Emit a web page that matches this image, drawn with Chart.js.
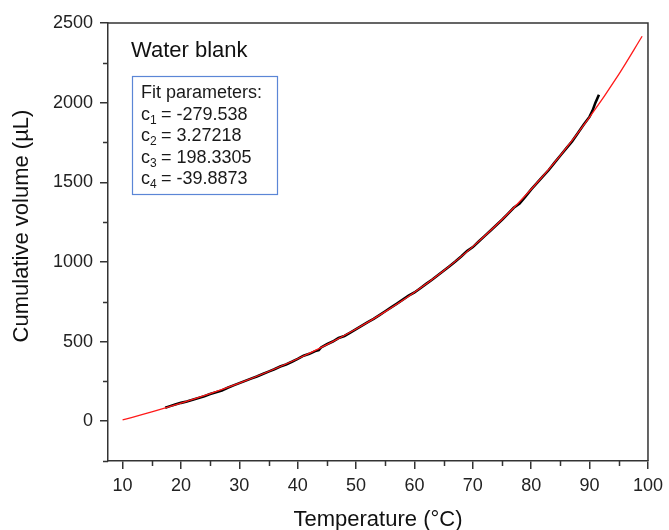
<!DOCTYPE html>
<html>
<head>
<meta charset="utf-8">
<script src="https://cdn.jsdelivr.net/npm/chart.js@4.4.1/dist/chart.umd.min.js"></script>
<style>
  html, body { margin: 0; padding: 0; background: #fff; }
  #wrap { width: 669px; height: 530px; }
</style>
</head>
<body>
<div id="wrap"><canvas id="chart" width="669" height="530"></canvas></div>
<script>
// measured run (black trace)
const runTemps = [17.3, 18, 19, 20, 21, 22, 23, 24, 25, 26, 27, 28, 29, 30, 31, 32, 33, 34, 35, 36,
  37, 38, 39, 40, 41, 42, 43, 43.6, 44, 45, 46, 47, 48, 49, 50, 51, 52, 53, 54, 55, 56, 57, 58, 59,
  60, 61, 62, 63, 64, 65, 66, 67, 68, 69, 70, 71, 72, 73, 74, 75, 76, 77, 78, 79, 80, 81, 82, 83,
  84, 85, 86, 87, 88, 89, 90, 90.5, 91, 91.6];
const runVolumes = [85, 93, 104, 115, 124, 135, 146, 157, 170, 182, 193, 210, 225, 239, 253, 267, 281, 296, 311, 326,
  343, 356, 373, 391, 411, 423, 440, 446, 463, 483, 500, 522, 535, 556, 578, 600, 622, 643, 666, 690, 714, 738, 763, 788,
  808, 835, 862, 888, 916, 944, 973, 1002, 1034, 1068, 1093, 1128, 1162, 1196, 1230, 1265, 1302, 1340, 1366, 1410, 1455, 1496, 1537, 1577,
  1623, 1668, 1713, 1757, 1810, 1862, 1912, 1950, 2000, 2050];

// fitted curve (red)
const fitTemps = [10, 15, 20, 25, 30, 35, 40, 45, 50, 55, 60, 65, 70, 75, 80, 85, 90, 95, 99];
const fitVolumes = [8, 58, 113, 173, 239, 312, 392, 481, 579, 688, 809, 945, 1096, 1266, 1456, 1669, 1909, 2178, 2417];

const xTicks = [10, 20, 30, 40, 50, 60, 70, 80, 90, 100];
const xMinor = [15, 25, 35, 45, 55, 65, 75, 85, 95];
const yTicks = [0, 500, 1000, 1500, 2000, 2500];
const yMinor = [-250, 250, 750, 1250, 1750, 2250];

const fitNames = ['1', '2', '3', '4'];
const fitValues = ['-279.538', '3.27218', '198.3305', '-39.8873'];

const FONT = '"Liberation Sans", Arial, sans-serif';
const AXIS = '#333';

const toPoints = (xs, ys) => xs.map((x, i) => ({ x, y: ys[i] }));

const decorations = {
  id: 'decorations',
  afterDraw(chart) {
    const { ctx, chartArea: a, scales: { x, y } } = chart;
    ctx.save();
    ctx.strokeStyle = AXIS;
    ctx.lineWidth = 1.5;
    ctx.beginPath();
    // minor ticks
    xMinor.forEach(v => {
      const px = Math.round(x.getPixelForValue(v)) + 0.5;
      ctx.moveTo(px, a.bottom); ctx.lineTo(px, a.bottom + 5);
    });
    yMinor.forEach(v => {
      const py = Math.round(y.getPixelForValue(v)) + 0.5;
      ctx.moveTo(a.left, py); ctx.lineTo(a.left - 5, py);
    });
    // top and right frame
    ctx.moveTo(a.left, a.top); ctx.lineTo(a.right, a.top); ctx.lineTo(a.right, a.bottom);
    ctx.stroke();

    ctx.fillStyle = '#111';
    // axis titles
    ctx.font = '22px ' + FONT;
    ctx.textAlign = 'center';
    ctx.textBaseline = 'alphabetic';
    ctx.fillText('Temperature (°C)', (a.left + a.right) / 2, 526);
    ctx.save();
    ctx.translate(28, 226);
    ctx.rotate(-Math.PI / 2);
    ctx.fillText('Cumulative volume (µL)', 0, 0);
    ctx.restore();

    // sample label
    ctx.textAlign = 'left';
    ctx.font = '22px ' + FONT;
    ctx.fillText('Water blank', 131, 57);

    // fit parameter box
    ctx.strokeStyle = '#5b86d6';
    ctx.lineWidth = 1.2;
    ctx.strokeRect(132.5, 76.5, 145, 118);
    ctx.fillStyle = '#1a1a1a';
    ctx.font = '18px ' + FONT;
    ctx.fillText('Fit parameters:', 141, 98);
    fitNames.forEach((n, i) => {
      const base = 120 + i * 21.3;
      ctx.font = '18px ' + FONT;
      ctx.fillText('c', 141, base);
      ctx.font = '12px ' + FONT;
      ctx.fillText(n, 150, base + 4);
      ctx.font = '18px ' + FONT;
      ctx.fillText('= ' + fitValues[i], 161, base);
    });
    ctx.restore();
  }
};

new Chart(document.getElementById('chart'), {
  type: 'line',
  data: {
    datasets: [
      {
        label: 'Fit',
        data: toPoints(fitTemps, fitVolumes),
        borderColor: '#ff1a1a',
        borderWidth: 1.3,
        pointRadius: 0,
        cubicInterpolationMode: 'monotone',
        fill: false
      },
      {
        label: 'Water blank',
        data: toPoints(runTemps, runVolumes),
        borderColor: '#000',
        borderWidth: 2.6,
        pointRadius: 0,
        tension: 0,
        fill: false
      }
    ]
  },
  options: {
    responsive: false,
    animation: false,
    layout: { padding: { top: 23, right: 16, left: 0, bottom: 0 } },
    plugins: { legend: { display: false }, tooltip: { enabled: false } },
    scales: {
      x: {
        type: 'linear',
        min: 7.5,
        max: 100,
        afterBuildTicks: s => { s.ticks = xTicks.map(v => ({ value: v })); },
        afterFit: s => { s.height = 69; },
        border: { color: AXIS, width: 1.5 },
        grid: { drawOnChartArea: false, tickLength: 8, color: AXIS, lineWidth: 1.5 },
        ticks: { padding: 6, color: '#222', font: { family: FONT, size: 18 }, maxRotation: 0, callback: v => String(v) }
      },
      y: {
        min: -250,
        max: 2500,
        afterBuildTicks: s => { s.ticks = yTicks.map(v => ({ value: v })); },
        afterFit: s => { s.width = 108; },
        border: { color: AXIS, width: 1.5 },
        grid: { drawOnChartArea: false, tickLength: 8, color: AXIS, lineWidth: 1.5 },
        ticks: { padding: 7, color: '#222', font: { family: FONT, size: 18 }, callback: v => String(v) }
      }
    }
  },
  plugins: [decorations]
});
</script>
</body>
</html>
